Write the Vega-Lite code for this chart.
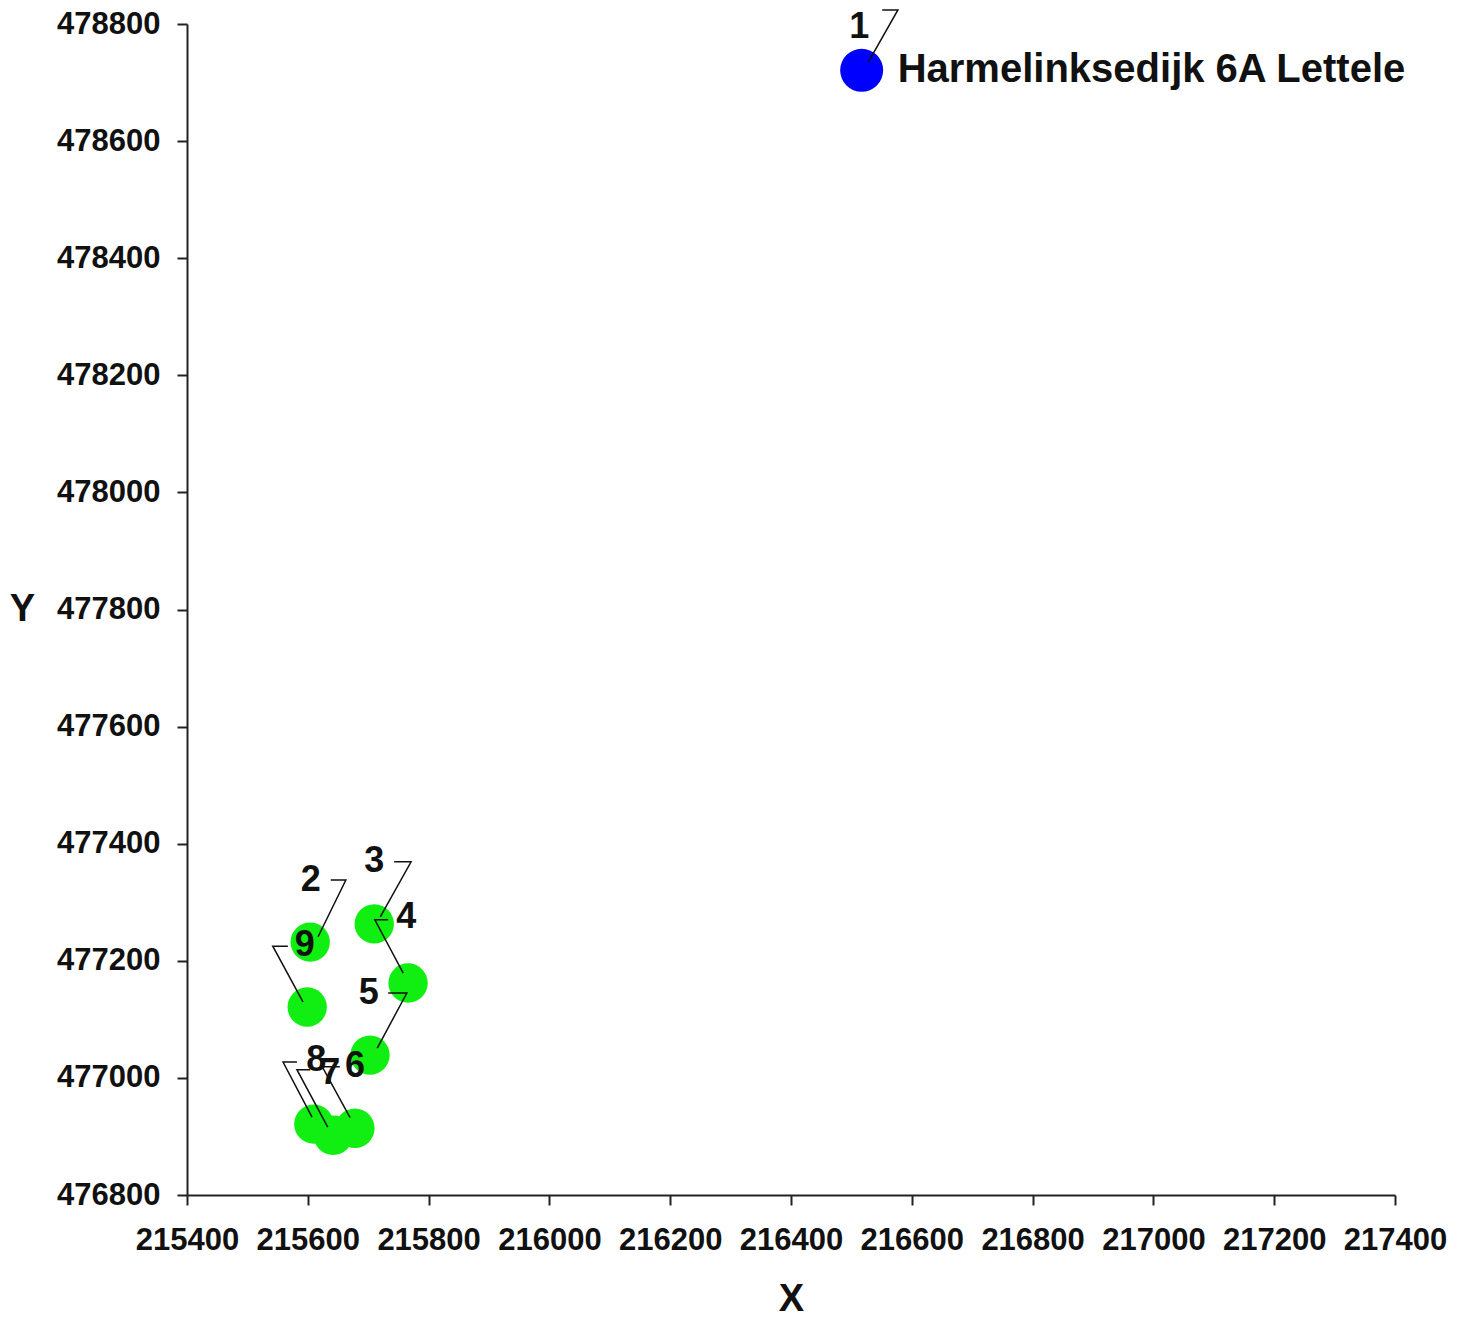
{
  "$schema": "https://vega.github.io/schema/vega-lite/v6.json",
  "width": 1208,
  "height": 1171,
  "autosize": {"type": "none"},
  "padding": {"left": 187, "top": 24, "right": 74, "bottom": 126},
  "background": "white",
  "datasets": {
    "points": [
      {"id": 1, "kind": "source", "x": 216517, "y": 478721, "name": "Harmelinksedijk 6A Lettele"},
      {"id": 2, "kind": "receptor", "x": 215604, "y": 477232, "name": ""},
      {"id": 3, "kind": "receptor", "x": 215710, "y": 477263, "name": ""},
      {"id": 4, "kind": "receptor", "x": 215766, "y": 477162, "name": ""},
      {"id": 5, "kind": "receptor", "x": 215703, "y": 477039, "name": ""},
      {"id": 6, "kind": "receptor", "x": 215678, "y": 476914, "name": ""},
      {"id": 7, "kind": "receptor", "x": 215642, "y": 476902, "name": ""},
      {"id": 8, "kind": "receptor", "x": 215610, "y": 476921, "name": ""},
      {"id": 9, "kind": "receptor", "x": 215599, "y": 477121, "name": ""}
    ],
    "leaders": [
      {"id": 1, "step": 1, "x": 216551, "y": 478824},
      {"id": 1, "step": 2, "x": 216577, "y": 478824},
      {"id": 1, "step": 3, "x": 216528, "y": 478735},
      {"id": 2, "step": 1, "x": 215638, "y": 477338},
      {"id": 2, "step": 2, "x": 215663, "y": 477338},
      {"id": 2, "step": 3, "x": 215617, "y": 477241},
      {"id": 3, "step": 1, "x": 215743, "y": 477369},
      {"id": 3, "step": 2, "x": 215771, "y": 477369},
      {"id": 3, "step": 3, "x": 215720, "y": 477275},
      {"id": 4, "step": 1, "x": 215733, "y": 477270},
      {"id": 4, "step": 2, "x": 215711, "y": 477270},
      {"id": 4, "step": 3, "x": 215758, "y": 477179},
      {"id": 5, "step": 1, "x": 215733, "y": 477145},
      {"id": 5, "step": 2, "x": 215764, "y": 477145},
      {"id": 5, "step": 3, "x": 215715, "y": 477051},
      {"id": 6, "step": 1, "x": 215653, "y": 477019},
      {"id": 6, "step": 2, "x": 215624, "y": 477019},
      {"id": 6, "step": 3, "x": 215670, "y": 476932},
      {"id": 7, "step": 1, "x": 215604, "y": 477014},
      {"id": 7, "step": 2, "x": 215582, "y": 477014},
      {"id": 7, "step": 3, "x": 215633, "y": 476916},
      {"id": 8, "step": 1, "x": 215582, "y": 477027},
      {"id": 8, "step": 2, "x": 215559, "y": 477027},
      {"id": 8, "step": 3, "x": 215607, "y": 476933},
      {"id": 9, "step": 1, "x": 215567, "y": 477225},
      {"id": 9, "step": 2, "x": 215542, "y": 477225},
      {"id": 9, "step": 3, "x": 215592, "y": 477130}
    ],
    "labels": [
      {"label": "1", "x": 216513, "y": 478795},
      {"label": "2", "x": 215605, "y": 477338},
      {"label": "3", "x": 215710, "y": 477370},
      {"label": "4", "x": 215763, "y": 477275},
      {"label": "5", "x": 215701, "y": 477145},
      {"label": "6", "x": 215678, "y": 477020},
      {"label": "7", "x": 215637, "y": 477008},
      {"label": "8", "x": 215614, "y": 477031},
      {"label": "9", "x": 215595, "y": 477227}
    ]
  },
  "config": {
    "view": {"stroke": null},
    "font": "Liberation Sans",
    "axis": {
      "grid": false,
      "domainColor": "#222222",
      "domainWidth": 2,
      "tickColor": "#222222",
      "tickWidth": 2,
      "tickSize": 10,
      "labelFont": "Liberation Sans",
      "labelFontSize": 31,
      "labelFontWeight": "bold",
      "labelColor": "#111111",
      "titleFont": "Liberation Sans",
      "titleFontSize": 38,
      "titleFontWeight": "bold",
      "titleColor": "#111111"
    }
  },
  "layer": [
    {
      "data": {"name": "points"},
      "mark": {"type": "circle", "opacity": 1},
      "encoding": {
        "x": {
          "field": "x",
          "type": "quantitative",
          "title": "X",
          "scale": {"domain": [215400, 217400], "nice": false, "zero": false},
          "axis": {
            "values": [215400, 215600, 215800, 216000, 216200, 216400, 216600, 216800, 217000, 217200, 217400],
            "format": "d",
            "labelPadding": 20,
            "labelFlush": false,
            "titleY": 104,
            "titleBaseline": "middle"
          }
        },
        "y": {
          "field": "y",
          "type": "quantitative",
          "title": "Y",
          "scale": {"domain": [476800, 478800], "nice": false, "zero": false},
          "axis": {
            "values": [476800, 477000, 477200, 477400, 477600, 477800, 478000, 478200, 478400, 478600, 478800],
            "format": "d",
            "labelPadding": 17,
            "labelFlush": false,
            "titleAngle": 0,
            "titleX": -165,
            "titleY": 585,
            "titleAlign": "center",
            "titleBaseline": "middle"
          }
        },
        "color": {
          "field": "kind",
          "type": "nominal",
          "scale": {"domain": ["source", "receptor"], "range": ["#0000ff", "#11ee11"]},
          "legend": null
        },
        "size": {
          "field": "kind",
          "type": "nominal",
          "scale": {"domain": ["source", "receptor"], "range": [1850, 1550]},
          "legend": null
        }
      }
    },
    {
      "data": {"name": "leaders"},
      "mark": {"type": "line", "color": "#111111", "strokeWidth": 1.5},
      "encoding": {
        "x": {"field": "x", "type": "quantitative"},
        "y": {"field": "y", "type": "quantitative"},
        "detail": {"field": "id", "type": "nominal"},
        "order": {"field": "step", "type": "quantitative"}
      }
    },
    {
      "data": {"name": "labels"},
      "mark": {"type": "text", "fontSize": 36, "fontWeight": "bold", "color": "#111111", "align": "center", "baseline": "middle"},
      "encoding": {
        "x": {"field": "x", "type": "quantitative"},
        "y": {"field": "y", "type": "quantitative"},
        "text": {"field": "label", "type": "nominal"}
      }
    },
    {
      "data": {"name": "points"},
      "transform": [{"filter": "datum.name != ''"}],
      "mark": {"type": "text", "fontSize": 40, "fontWeight": "bold", "color": "#111111", "align": "left", "baseline": "middle", "dx": 36},
      "encoding": {
        "x": {"field": "x", "type": "quantitative"},
        "y": {"field": "y", "type": "quantitative"},
        "text": {"field": "name", "type": "nominal"}
      }
    }
  ]
}
